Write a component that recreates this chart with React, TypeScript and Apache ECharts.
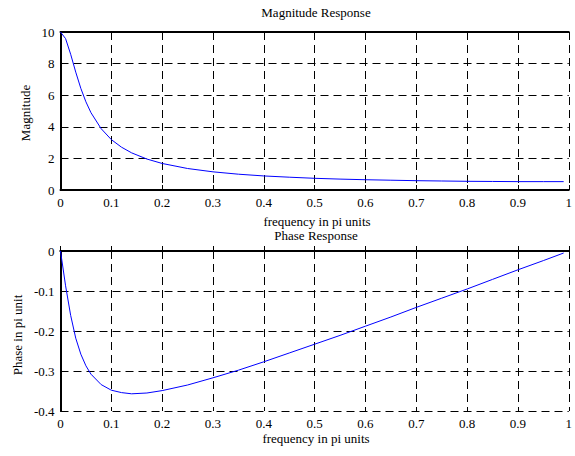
import React, { useEffect, useRef } from "react";
import * as echarts from "echarts";

const freq = [0, 0.01, 0.02, 0.03, 0.04, 0.05, 0.06, 0.08, 0.1, 0.12, 0.14, 0.17, 0.2, 0.25, 0.3, 0.35, 0.4, 0.45, 0.5, 0.55, 0.6, 0.65, 0.7, 0.75, 0.8, 0.85, 0.9, 0.95, 0.99];
const magnitude = [10, 9.58, 8.59, 7.46, 6.43, 5.58, 4.89, 3.88, 3.19, 2.71, 2.35, 1.96, 1.68, 1.36, 1.15, 1.0, 0.89, 0.81, 0.74, 0.69, 0.65, 0.62, 0.59, 0.57, 0.55, 0.54, 0.53, 0.53, 0.53];
const phase = [0, -0.087, -0.161, -0.218, -0.258, -0.287, -0.308, -0.334, -0.348, -0.354, -0.357, -0.355, -0.349, -0.335, -0.317, -0.298, -0.277, -0.255, -0.233, -0.211, -0.188, -0.165, -0.141, -0.118, -0.095, -0.071, -0.047, -0.024, -0.005];
const xTicks = { min: 0, max: 1, interval: 0.1 };
const magTicks = { min: 0, max: 10, interval: 2 };
const phaseTicks = { min: -0.4, max: 0, interval: 0.1 };
const labels = {
  magTitle: "Magnitude Response",
  phaseTitle: "Phase Response",
  xName: "frequency in pi units",
  magY: "Magnitude",
  phaseY: "Phase in pi unit",
};

const FONT = "Liberation Serif";

export default function App() {
  const ref = useRef<HTMLDivElement>(null);
  useEffect(() => {
    const chart = echarts.init(ref.current!, null, { renderer: "svg" });
    const fmtX = (v: number) => (v === 0 ? "0" : v === 1 ? "1" : v.toFixed(1));
    const fmtY = (v: number) => (Math.abs(v) < 1e-9 ? "0" : Number.isInteger(v) ? String(v) : v.toFixed(1));
    const axisLine = { show: true, lineStyle: { color: "#000", width: 2 } };
    const split = { show: true, lineStyle: { color: "#000", type: [8, 5], width: 1 } };
    const tick = { show: true, inside: true, length: 5, lineStyle: { color: "#000", width: 1 } };
    const lab = { color: "#000", fontFamily: FONT, fontSize: 13, margin: 6 };
    const xMain = (gi: number) => ({
      type: "value", gridIndex: gi, ...xTicks, axisLine, axisTick: tick,
      splitLine: split, axisLabel: { ...lab, formatter: fmtX },
    });
    const xTop = (gi: number) => ({
      type: "value", gridIndex: gi, position: "top", ...xTicks, axisLine, axisTick: tick,
      splitLine: { show: false }, axisLabel: { show: false },
    });
    const txt = (text: string, x: number, y: number, rot = 0) => ({
      type: "text", x, y, rotation: rot,
      style: { text, fill: "#000", font: `13px "${FONT}"`, align: "center", verticalAlign: "middle" },
    });
    const magData = freq.map((f, i) => [f, magnitude[i]]);
    const phaseData = freq.map((f, i) => [f, phase[i]]);
    chart.setOption({
      animation: false,
      backgroundColor: "#fff",
      grid: [
        { left: 60.5, top: 32, width: 514, height: 158 },
        { left: 60.5, top: 251, width: 514, height: 160 },
      ],
      xAxis: [xMain(0), xTop(0), xMain(1), xTop(1)],
      yAxis: [
        { type: "value", gridIndex: 0, ...magTicks, axisLine, axisTick: tick, splitLine: split, axisLabel: { ...lab, formatter: fmtY } },
        { type: "value", gridIndex: 1, ...phaseTicks, axisLine, axisTick: tick, splitLine: split, axisLabel: { ...lab, formatter: fmtY } },
      ],
      series: [
        { type: "line", xAxisIndex: 0, yAxisIndex: 0, data: magData, showSymbol: false, lineStyle: { color: "#0000ff", width: 1 }, silent: true },
        { type: "line", xAxisIndex: 2, yAxisIndex: 1, data: phaseData, showSymbol: false, lineStyle: { color: "#0000ff", width: 1 }, silent: true },
      ],
      graphic: [
        txt(labels.magTitle, 316, 12),
        txt(labels.xName, 317, 221),
        txt(labels.phaseTitle, 316, 235),
        txt(labels.xName, 316, 438),
        txt(labels.magY, 25, 113, Math.PI / 2),
        txt(labels.phaseY, 17, 335, Math.PI / 2),
      ],
    });
    return () => chart.dispose();
  }, []);
  return (
    <div
      ref={ref}
      style={{ position: "fixed", left: 0, top: 0, width: 575, height: 456, background: "#fff" }}
    />
  );
}
